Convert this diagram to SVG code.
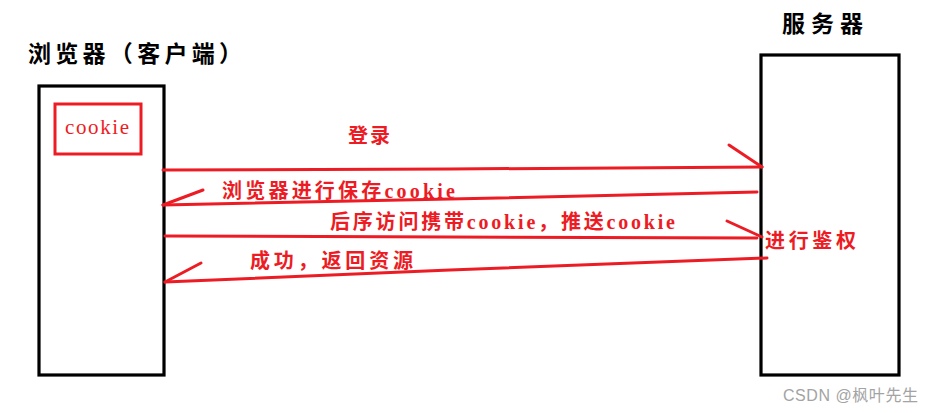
<svg xmlns="http://www.w3.org/2000/svg" width="935" height="413" viewBox="0 0 935 413">
<style>
.box{fill:none;stroke:#000;stroke-width:3.2}
.red{fill:none;stroke:#ed1c24;stroke-width:3;stroke-linecap:round}
.title{font-family:"Liberation Serif","Noto Sans CJK SC",serif;font-weight:bold;font-size:23px;fill:#000}
.lbl{font-family:"Liberation Serif","Noto Sans CJK SC",serif;font-weight:bold;font-size:20px;fill:#ed1c24}
.wm{font-family:"Liberation Sans","Noto Sans CJK SC",sans-serif;font-size:16px;fill:#a3a3a3}
</style>
<rect width="935" height="413" fill="#fff"/>
<g id="browser">
<text class="title" x="28" y="62" textLength="214" lengthAdjust="spacing">浏览器（客户端）</text>
<rect class="box" x="39" y="86" width="125" height="289"/>
</g>
<g id="cookie">
<rect x="55" y="104" width="86" height="50" fill="none" stroke="#ed1c24" stroke-width="3"/>
<text x="65" y="134" font-family="Liberation Serif,serif" font-size="21" fill="#ed1c24" textLength="64" lengthAdjust="spacing">cookie</text>
</g>
<g id="server">
<text class="title" x="782" y="32" textLength="81" lengthAdjust="spacing">服务器</text>
<rect class="box" x="761" y="55" width="138" height="320"/>
</g>
<g id="connectors">
<polyline class="red" points="163,170 450,169 762,167"/>
<line class="red" x1="729" y1="145" x2="762" y2="167"/>
<polyline class="red" points="757,192 450,199 163,205"/>
<line class="red" x1="163" y1="205" x2="203" y2="190"/>
<polyline class="red" points="165,236 450,237 757,238"/>
<line class="red" x1="727" y1="221" x2="762" y2="237"/>
<polyline class="red" points="767,258 450,270 165,282"/>
<line class="red" x1="165" y1="282" x2="201" y2="263"/>
</g>
<g id="labels">
<text class="lbl" x="348" y="143" textLength="42" lengthAdjust="spacing">登录</text>
<text class="lbl" x="222" y="198" textLength="233" lengthAdjust="spacing">浏览器进行保存cookie</text>
<text class="lbl" x="330" y="229" textLength="345" lengthAdjust="spacing">后序访问携带cookie，推送cookie</text>
<text class="lbl" x="765" y="248" textLength="91" lengthAdjust="spacing">进行鉴权</text>
<text class="lbl" x="250" y="268" textLength="163" lengthAdjust="spacing">成功，返回资源</text>
</g>
<text class="wm" x="783" y="401" textLength="135" lengthAdjust="spacing">CSDN @枫叶先生</text>
</svg>
